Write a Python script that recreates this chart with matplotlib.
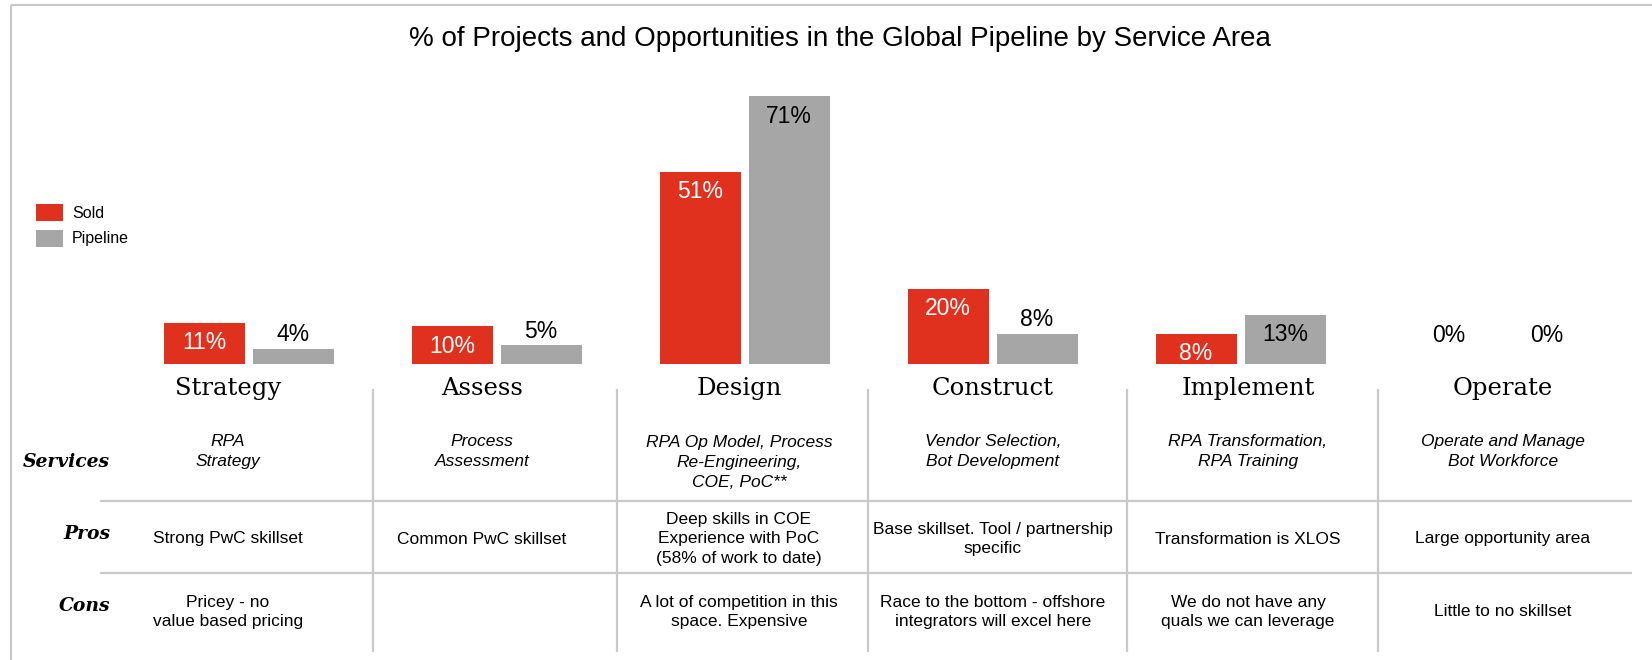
import numpy as np
import matplotlib.pyplot as plt

categories = ["Strategy", "Assess", "Design", "Construct", "Implement", "Operate"]
sold = [11, 10, 51, 20, 8, 0]
pipeline = [4, 5, 71, 8, 13, 0]

row_labels = ["Services", "Pros", "Cons"]
services = [
    "RPA\nStrategy",
    "Process\nAssessment",
    "RPA Op Model, Process\nRe-Engineering,\nCOE, PoC**",
    "Vendor Selection,\nBot Development",
    "RPA Transformation,\nRPA Training",
    "Operate and Manage\nBot Workforce",
]
pros = [
    "Strong PwC skillset",
    "Common PwC skillset",
    "Deep skills in COE\nExperience with PoC\n(58% of work to date)",
    "Base skillset. Tool / partnership\nspecific",
    "Transformation is XLOS",
    "Large opportunity area",
]
cons = [
    "Pricey - no\nvalue based pricing",
    "",
    "A lot of competition in this\nspace. Expensive",
    "Race to the bottom - offshore\nintegrators will excel here",
    "We do not have any\nquals we can leverage",
    "Little to no skillset",
]

RED = "#E0301E"
GREY = "#A6A6A6"
RULE = "#C8C8C8"
W, H = 1652, 660

plt.rcParams["font.family"] = ["Liberation Sans", "DejaVu Sans"]

fig = plt.figure(figsize=(W / 100, H / 100), dpi=100)

# overlay axes in pixel coordinates for frame, title and table
ov = fig.add_axes([0, 0, 1, 1])
ov.set_xlim(0, W)
ov.set_ylim(H, 0)
ov.axis("off")

# bar axes: 248 px per group, baseline at y=364 px, 3.77 px per percent
ax = fig.add_axes([124.5 / W, (H - 364) / H, 1488 / W, 80 * 3.77 / H])
x = np.arange(len(categories))
bw = 81 / 248
shift = 44.5 / 248
b1 = ax.bar(x - shift, sold, bw, color=RED, label="Sold")
b2 = ax.bar(x + shift, pipeline, bw, color=GREY, label="Pipeline")
ax.set_xlim(-0.5, len(categories) - 0.5)
ax.set_ylim(0, 80)
ax.axis("off")


def add_label(rect, v, inside, inside_color, zero_dx):
    cx = rect.get_x() + rect.get_width() / 2
    dx = 0
    if v == 0:
        dx, dy, col = zero_dx, 29, "black"
    elif inside:
        dy, col = -20, inside_color
    else:
        dy, col = 14, "black"
    ax.annotate(f"{v}%", (cx, v), xytext=(dx, dy), textcoords="offset pixels",
                ha="center", va="center", color=col, fontsize=16.5)


for rect, v in zip(b1, sold):
    add_label(rect, v, True, "white", 5)
for rect, v in zip(b2, pipeline):
    add_label(rect, v, v >= 10, "black", 14)

ax.legend(handles=[b1, b2], loc="upper left",
          bbox_to_anchor=(36 / W, 1 - 204 / H), bbox_transform=fig.transFigure,
          frameon=False, fontsize=11.5, handlelength=1.69, handleheight=1.25,
          labelspacing=0.55, handletextpad=0.56, borderpad=0, borderaxespad=0)

# frame
ov.plot([11, 11], [5, H], color=RULE, lw=1.5, solid_capstyle="butt")
ov.plot([11, W], [5, 5], color=RULE, lw=1.5, solid_capstyle="butt")

ov.text(840, 39, "% of Projects and Opportunities in the Global Pipeline by Service Area",
        ha="center", va="center", fontsize=20)

# table
col_x = [228, 482, 739, 993, 1248, 1503]
ov.hlines([500.7, 573], 100, 1632, color=RULE, lw=1.6)
ov.vlines([373, 617, 868, 1127, 1378], 389, 652, color=RULE, lw=1.6)

for cx, name in zip(col_x, categories):
    ov.text(cx, 395, name, ha="center", va="baseline",
            family="DejaVu Serif", fontsize=17.5)

for y, name in zip([462, 534, 606], row_labels):
    ov.text(110, y, name, ha="right", va="center", family="DejaVu Serif",
            weight="bold", style="italic", fontsize=13.5)

line_h = 21.7
for cx, s, p, c in zip(col_x, services, pros, cons):
    n = s.count("\n") + 1
    ov.text(cx, 441 + (n - 1) * line_h / 2, s, ha="center", va="center",
            style="italic", fontsize=12.5, linespacing=1.4)
    ov.text(cx, 539, p, ha="center", va="center", fontsize=12.5, linespacing=1.4)
    if c:
        ov.text(cx, 612, c, ha="center", va="center", fontsize=12.5, linespacing=1.4)

fig.savefig("out.png", dpi=100)
